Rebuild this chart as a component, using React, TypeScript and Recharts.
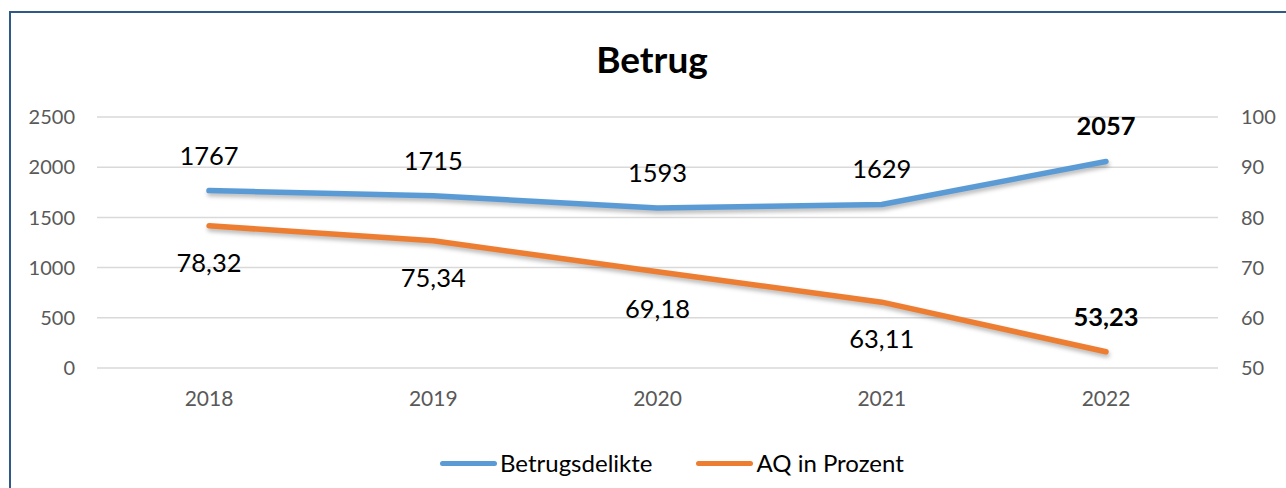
import React from "react";
import {
  LineChart,
  Line,
  XAxis,
  YAxis,
  CartesianGrid,
  LabelList,
} from "recharts";

const years = ["2018", "2019", "2020", "2021", "2022"];
const betrugsdelikte = [1767, 1715, 1593, 1629, 2057];
const aqInProzent = [78.32, 75.34, 69.18, 63.11, 53.23];
const leftTicks = [0, 500, 1000, 1500, 2000, 2500];
const rightTicks = [50, 60, 70, 80, 90, 100];

const BLUE = "#5B9BD5";
const ORANGE = "#ED7D31";
const FONT = "Lato, 'Open Sans', sans-serif";

const data = years.map((year, i) => ({
  year,
  delikte: betrugsdelikte[i],
  aq: aqInProzent[i],
}));

const series = [
  { key: "delikte", name: "Betrugsdelikte", color: BLUE },
  { key: "aq", name: "AQ in Prozent", color: ORANGE },
];

const fmtDe = (v: number) => String(v).replace(".", ",");

// letzter Punkt fett, AQ-Labels unterhalb ausser dem letzten
const makeLabel =
  (below: boolean) =>
  (props: any) => {
    const { x, y, value, index } = props;
    const last = index === years.length - 1;
    const dy = below && !last ? 46 : -26;
    return (
      <text
        x={x}
        y={y + dy}
        textAnchor="middle"
        fontFamily={FONT}
        fontSize={25.5}
        fontWeight={last ? 700 : 400}
        fill="#000"
      >
        {fmtDe(value)}
      </text>
    );
  };

export default function App() {
  return (
    <div
      style={{
        position: "fixed",
        left: 0,
        top: 0,
        width: 1286,
        height: 488,
        overflow: "hidden",
        background: "#fff",
        fontFamily: FONT,
      }}
    >
      <style>{`.recharts-line-curve { filter: drop-shadow(1px 3px 2px rgba(0,0,0,0.28)); }`}</style>
      <div
        style={{
          position: "absolute",
          left: 9,
          top: 11,
          width: 1300,
          height: 500,
          border: "2px solid #2F5A88",
        }}
      />
      <div
        style={{
          position: "absolute",
          left: 0,
          width: 1304,
          top: 37,
          textAlign: "center",
          fontSize: 37,
          fontWeight: 700,
          color: "#000",
          lineHeight: "44px",
        }}
      >
        Betrug
      </div>
      <div style={{ position: "absolute", left: 0, top: 0 }}>
        <LineChart
          width={1286}
          height={488}
          data={data}
          margin={{ top: 117, right: 0, left: 0, bottom: 80 }}
        >
          <CartesianGrid
            vertical={false}
            stroke="#d9d9d9"
            strokeWidth={1.5}
            yAxisId="left"
          />
          <XAxis
            dataKey="year"
            padding={{ left: 112, right: 112 }}
            axisLine={false}
            tickLine={false}
            tickSize={0}
            tickMargin={23}
            height={40}
            tick={{ fontSize: 21, fill: "#595959", fontFamily: FONT }}
          />
          <YAxis
            yAxisId="left"
            orientation="left"
            domain={[0, 2500]}
            ticks={leftTicks}
            width={97}
            axisLine={false}
            tickLine={false}
            tickSize={0}
            tickMargin={22}
            tick={{ fontSize: 20, fill: "#595959", fontFamily: FONT }}
          />
          <YAxis
            yAxisId="right"
            orientation="right"
            domain={[50, 100]}
            ticks={rightTicks}
            width={68}
            axisLine={false}
            tickLine={false}
            tickSize={0}
            tickMargin={23}
            tick={{
              fontSize: 20,
              fill: "#595959",
              fontFamily: FONT,
              textAnchor: "start",
            }}
          />
          <Line
            yAxisId="left"
            type="linear"
            dataKey="delikte"
            name="Betrugsdelikte"
            stroke={BLUE}
            strokeWidth={5.5}
            strokeLinecap="round"
            strokeLinejoin="round"
            dot={false}
            activeDot={false}
            isAnimationActive={false}
          >
            <LabelList dataKey="delikte" content={makeLabel(false)} />
          </Line>
          <Line
            yAxisId="right"
            type="linear"
            dataKey="aq"
            name="AQ in Prozent"
            stroke={ORANGE}
            strokeWidth={5.5}
            strokeLinecap="round"
            strokeLinejoin="round"
            dot={false}
            activeDot={false}
            isAnimationActive={false}
          >
            <LabelList dataKey="aq" content={makeLabel(true)} />
          </Line>
        </LineChart>
      </div>
      <div
        style={{
          position: "absolute",
          left: 440,
          top: 448,
          display: "flex",
          alignItems: "center",
          fontSize: 24,
          color: "#000",
          lineHeight: "30px",
        }}
      >
        {series.map((s, i) => (
          <div
            key={s.key}
            style={{
              display: "flex",
              alignItems: "center",
              marginLeft: i === 0 ? 0 : 44,
            }}
          >
            <span
              style={{
                display: "inline-block",
                width: 57,
                height: 5,
                borderRadius: 3,
                background: s.color,
                marginRight: 3,
              }}
            />
            <span>{s.name}</span>
          </div>
        ))}
      </div>
    </div>
  );
}
